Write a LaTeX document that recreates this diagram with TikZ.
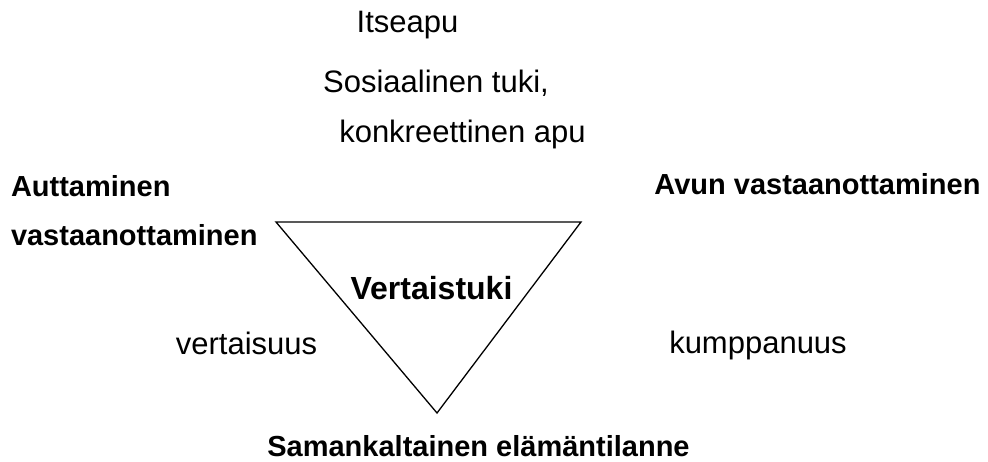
\documentclass[tikz,border=0pt]{standalone}
\usepackage{fontspec}
\setmainfont{Liberation Sans}
\begin{document}
\begin{tikzpicture}[x=1pt,y=-1pt,
  lbl/.style={inner sep=0pt,outer sep=0pt,font=\fontsize{31}{37}\selectfont},
  blbl/.style={inner sep=0pt,outer sep=0pt,font=\fontsize{29}{35}\selectfont\bfseries},
  tri/.style={draw=black,line width=1.3pt,line join=miter}]
\useasboundingbox[fill=white] (0,0) rectangle (988,462);
\node[lbl,anchor=base] (itse) at (407.5,33) {Itseapu};
\node[lbl,anchor=base] (sos) at (436,93) {Sosiaalinen tuki,};
\node[lbl,anchor=base] (konk) at (462.5,143) {konkreettinen apu};
\node[blbl,anchor=base west] (autt) at (11,197) {Auttaminen};
\node[blbl,anchor=base west] (vast) at (11,246) {vastaanottaminen};
\node[blbl,anchor=base] (avun) at (817.5,195) {Avun vastaanottaminen};
\node[blbl,anchor=base,font=\fontsize{32}{38}\selectfont\bfseries] (vert) at (431.5,300) {Vertaistuki};
\node[lbl,anchor=base] (vsuus) at (246.5,355) {vertaisuus};
\node[lbl,anchor=base] (kump) at (758,353) {kumppanuus};
\node[blbl,anchor=base] (sama) at (478.5,456) {Samankaltainen elämäntilanne};
\coordinate (tl) at (276,222);
\coordinate (tr) at (581,222);
\coordinate (bt) at (437,413);
\draw[tri] (tl) -- (tr) -- (bt) -- cycle;
\end{tikzpicture}
\end{document}
